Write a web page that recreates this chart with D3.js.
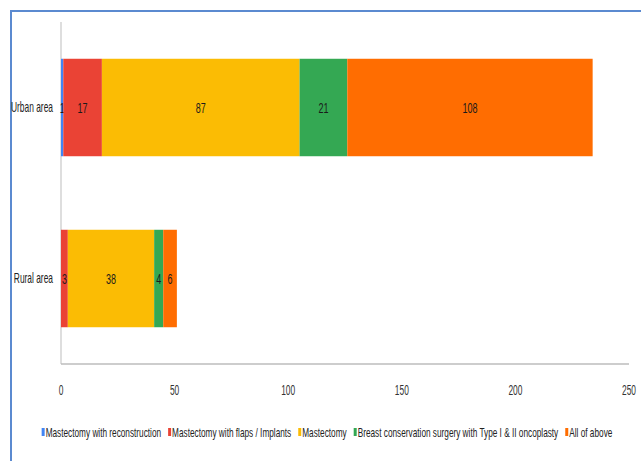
<!DOCTYPE html>
<html>
<head>
<meta charset="utf-8">
<script src="https://cdn.jsdelivr.net/npm/d3@7"></script>
<style>
  body { margin: 0; background: #fff; }
  text { font-family: "Liberation Sans", Arial, sans-serif; }
</style>
</head>
<body>
<div id="chart"></div>
<script>
// chart data
var areas = ["Urban area", "Rural area"];
var seriesNames = ["Mastectomy with reconstruction", "Mastectomy with flaps / Implants", "Mastectomy",
  "Breast conservation surgery with Type I & II oncoplasty", "All of above"];
var seriesColors = ["#4285f4", "#ea4335", "#fbbc04", "#34a853", "#ff6d01"];
var urbanValues = [1, 17, 87, 21, 108];
var ruralValues = [0, 3, 38, 4, 6];
var xTicks = [0, 50, 100, 150, 200, 250];

var svgWidth = 641;
var svgHeight = 461;

// the reference text is squeezed sideways, no narrow font here so scale it
var squeeze = 0.6;
var legendSqueeze = 0.635;

var margin = { top: 22, right: 12, bottom: 97, left: 61 };
var width = 629 - margin.left;
var height = 364 - margin.top;

var svg = d3.select("#chart")
  .append("svg")
  .attr("width", svgWidth)
  .attr("height", svgHeight);

// blue frame round the chart (runs off right / bottom)
svg.append("path")
  .attr("d", "M11,470 L11,11 L650,11")
  .attr("fill", "none")
  .attr("stroke", "#5b8ad0")
  .attr("stroke-width", 2);

var chartGroup = svg.append("g")
  .attr("transform", `translate(${margin.left}, ${margin.top})`);

// build the stacked rows
var rows = areas.map(function(a, i) {
  var row = { area: a };
  var vals = i === 0 ? urbanValues : ruralValues;
  seriesNames.forEach(function(s, j) { row[s] = vals[j]; });
  return row;
});

var stack = d3.stack().keys(seriesNames);
var stacked = stack(rows);

var xScale = d3.scaleLinear()
  .domain([0, 250])
  .range([0, width]);

var yScale = d3.scaleBand()
  .domain(areas)
  .range([0, height])
  .paddingInner(0.43)
  .paddingOuter(0.215);

// axes lines
chartGroup.append("line")
  .attr("x1", 0).attr("x2", 0)
  .attr("y1", 0).attr("y2", height)
  .attr("stroke", "#bdbdbd");
chartGroup.append("line")
  .attr("x1", 0).attr("x2", width)
  .attr("y1", height).attr("y2", height)
  .attr("stroke", "#bdbdbd")
  .attr("stroke-width", 1.5);

// x tick labels
chartGroup.selectAll(".xtick")
  .data(xTicks)
  .enter()
  .append("text")
  .attr("class", "xtick")
  .attr("transform", d => `translate(${xScale(d)}, ${height + 31}) scale(${squeeze}, 1)`)
  .attr("text-anchor", "middle")
  .style("font-size", "14px")
  .style("fill", "#333")
  .text(d => d);

// y category labels
chartGroup.selectAll(".ylab")
  .data(areas)
  .enter()
  .append("text")
  .attr("class", "ylab")
  .attr("transform", d => `translate(-8, ${yScale(d) + yScale.bandwidth() / 2}) scale(${squeeze}, 1)`)
  .attr("dy", "0.35em")
  .attr("text-anchor", "end")
  .style("font-size", "14px")
  .style("fill", "#222")
  .text(d => d);

// bars
var layers = chartGroup.selectAll(".layer")
  .data(stacked)
  .enter()
  .append("g")
  .attr("class", "layer")
  .attr("fill", (d, i) => seriesColors[i]);

layers.selectAll("rect")
  .data(d => d)
  .enter()
  .append("rect")
  .attr("x", d => xScale(d[0]))
  .attr("y", d => yScale(d.data.area))
  .attr("width", d => xScale(d[1]) - xScale(d[0]))
  .attr("height", yScale.bandwidth());

// value labels
layers.selectAll("text")
  .data(d => d.filter(p => p[1] - p[0] > 0))
  .enter()
  .append("text")
  .attr("transform", d => `translate(${xScale((d[0] + d[1]) / 2)}, ${yScale(d.data.area) + yScale.bandwidth() / 2}) scale(${squeeze}, 1)`)
  .attr("dy", "0.35em")
  .attr("text-anchor", "middle")
  .style("font-size", "15px")
  .style("fill", "#1a1a1a")
  .text(d => d[1] - d[0]);

// legend
var legend = svg.append("g");

var lx = 0;
seriesNames.forEach(function(s, i) {
  var g = legend.append("g");
  g.append("rect")
    .attr("x", 0).attr("y", -9)
    .attr("width", 3).attr("height", 8)
    .attr("fill", seriesColors[i]);
  var t = g.append("text")
    .attr("transform", `translate(4, 0) scale(${legendSqueeze}, 1)`)
    .style("font-size", "13px")
    .style("fill", "#222")
    .text(s);
  var w = 4 + t.node().getComputedTextLength() * legendSqueeze;
  g.attr("transform", `translate(${lx}, 0)`);
  lx += w + 7;
});
var total = lx - 7;
legend.attr("transform", `translate(${327 - total / 2}, 437)`);
</script>
</body>
</html>
